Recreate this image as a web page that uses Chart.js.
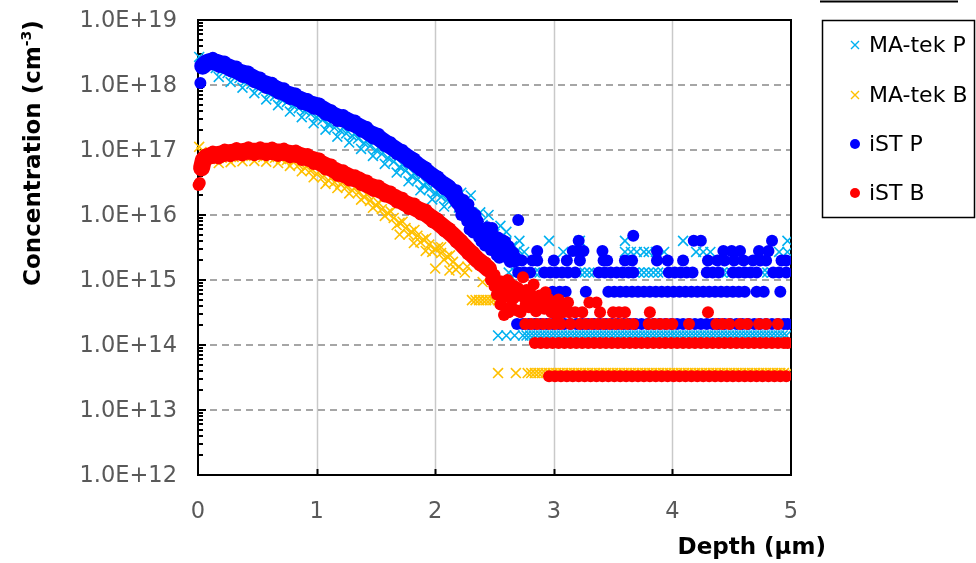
<!DOCTYPE html>
<html>
<head>
<meta charset="utf-8">
<title>SIMS depth profile</title>
<script src="https://cdn.jsdelivr.net/npm/chart.js@4.4.0/dist/chart.umd.min.js"></script>
<style>
  html, body { margin: 0; padding: 0; background: #fff; }
  #wrap { width: 976px; height: 563px; }
</style>
</head>
<body>
<div id="wrap"><canvas id="profile" width="976" height="563"></canvas></div>
<script>
// depth profile: P and B concentration vs depth, two labs

const xTicks = [0, 1, 2, 3, 4, 5];
const yTicks = [1e12, 1e13, 1e14, 1e15, 1e16, 1e17, 1e18, 1e19];
const yTickLabels = ['1.0E+12', '1.0E+13', '1.0E+14', '1.0E+15', '1.0E+16', '1.0E+17', '1.0E+18', '1.0E+19'];
const seriesNames = ['MA-tek P', 'MA-tek B', 'iST P', 'iST B'];

// shared depth grid for the scatter at the edges of each profile band
const edgeDepth = [0.125, 0.175, 0.225, 0.275, 0.325, 0.375, 0.425, 0.475, 0.525, 0.575, 0.625, 0.675, 0.725, 0.775, 0.825, 0.875,
  0.925, 0.975, 1.025, 1.075, 1.125, 1.175, 1.225, 1.275, 1.325, 1.375, 1.425, 1.475, 1.525, 1.575, 1.625, 1.675, 1.725, 1.775,
  1.825, 1.875, 1.925, 1.975, 2.025, 2.075, 2.125, 2.175, 2.225, 2.275, 2.325, 2.375, 2.425, 2.475];

// ---- MA-tek P ----
const maPDepth = [0.01, 0.03, 0.06, 0.10, 0.15, 0.20, 0.25, 0.30, 0.35, 0.40, 0.45, 0.50, 0.55, 0.60, 0.65, 0.70, 0.75, 0.80, 0.85, 0.90, 0.95,
  1.00, 1.05, 1.10, 1.15, 1.20, 1.25, 1.30, 1.35, 1.40, 1.45, 1.50, 1.55, 1.60, 1.65, 1.70, 1.75, 1.80, 1.85, 1.90, 1.95,
  2.00, 2.05, 2.10, 2.15, 2.20, 2.25, 2.30, 2.35, 2.40, 2.45, 2.50, 2.55, 2.60, 2.65, 2.70,
  2.22, 2.30, 2.38, 2.45, 2.55, 2.60];
const maPConc = [2.7e18, 1.95e18, 2.0e18, 1.95e18, 1.82e18, 1.7e18, 1.53e18, 1.42e18, 1.28e18, 1.15e18, 1.04e18, 9.4e17, 8.4e17, 7.5e17, 6.8e17, 6.1e17, 5.5e17, 4.9e17, 4.4e17, 4.0e17, 3.6e17,
  3.2e17, 2.9e17, 2.5e17, 2.2e17, 2.0e17, 1.8e17, 1.65e17, 1.5e17, 1.28e17, 1.15e17, 1.0e17, 8.7e16, 7.6e16, 6.6e16, 5.5e16, 4.8e16, 4.0e16, 3.5e16, 2.9e16, 2.5e16,
  2.2e16, 1.9e16, 1.7e16, 1.5e16, 1.3e16, 1.1e16, 9.3e15, 8.1e15, 7.0e15, 5.9e15, 5.1e15, 4.4e15, 3.8e15, 3.3e15, 2.9e15,
  2.2e16, 2.0e16, 1.1e16, 1.0e16, 6.8e15, 5.5e15];
const maPEdge = [2.2e18, 1.33e18, 1.84e18, 1.11e18, 1.55e18, 9.1e17, 1.25e18, 7.5e17, 1.02e18, 6.0e17, 8.2e17, 4.9e17, 6.7e17, 3.9e17,
  5.3e17, 3.2e17, 4.4e17, 2.57e17, 3.5e17, 2.05e17, 2.7e17, 1.6e17, 2.2e17, 1.3e17, 1.8e17, 1.04e17, 1.4e17, 8.1e16, 1.07e17, 6.1e16,
  8.2e16, 4.5e16, 5.9e16, 3.3e16, 4.3e16, 2.4e16, 3.1e16, 1.74e16, 2.35e16, 1.35e16];
// background levels and the depths sitting on each
const maPBgLevel = [4.0e15, 2.7e15, 1.3e15, 1.4e14];
const maPBgDepth = [
  [2.71, 2.96, 3.22, 3.60, 4.09, 4.97],
  [2.75, 3.08, 3.60, 3.65, 3.70, 3.76, 3.80, 3.86, 3.93, 4.20, 4.26, 4.32, 4.90, 4.97],
  [2.62, 2.68, 2.84, 2.88, 2.93, 3.22, 3.26, 3.30, 3.34, 3.68, 3.72, 3.76, 3.80, 3.84, 3.88, 3.92, 4.42, 4.46, 4.50, 4.59, 4.63, 4.67, 4.76, 4.80, 4.84],
  [2.53, 2.60, 2.67, 2.74, 2.77, 2.80, 2.83, 2.86, 2.89, 2.92, 2.95, 2.98, 3.01, 3.04, 3.07, 3.10, 3.13, 3.16, 3.19, 3.22, 3.25, 3.28, 3.31, 3.34, 3.37,
    3.40, 3.43, 3.46, 3.49, 3.52, 3.55, 3.58, 3.61, 3.64, 3.67, 3.70, 3.73, 3.76, 3.79, 3.82, 3.85, 3.88, 3.91, 3.94, 3.97, 4.00, 4.03, 4.06, 4.09,
    4.12, 4.15, 4.18, 4.21, 4.24, 4.27, 4.30, 4.33, 4.36, 4.39, 4.42, 4.45, 4.48, 4.51, 4.54, 4.57, 4.60, 4.63, 4.66, 4.69, 4.72, 4.75, 4.78, 4.81,
    4.84, 4.87, 4.90, 4.93, 4.96]
];

// ---- MA-tek B ----
const maBDepth = [0.01, 0.03, 0.05, 0.10, 0.15, 0.20, 0.25, 0.30, 0.35, 0.40, 0.45, 0.50, 0.55, 0.60, 0.65, 0.70, 0.75, 0.80, 0.85, 0.90, 0.95,
  1.00, 1.05, 1.10, 1.15, 1.20, 1.25, 1.30, 1.35, 1.40, 1.45, 1.50, 1.55, 1.60, 1.65, 1.70, 1.75, 1.80, 1.85, 1.90, 1.95,
  2.00, 2.05, 2.10, 2.15, 2.20, 2.25,
  1.70, 1.82, 1.92, 2.00, 2.05, 2.12, 2.27, 2.40];
const maBConc = [1.12e17, 9.3e16, 7.6e16, 7.3e16, 7.3e16, 7.6e16, 7.6e16, 7.8e16, 7.8e16, 8.1e16, 8.1e16, 8.1e16, 7.8e16, 7.8e16, 7.6e16, 7.3e16, 7.0e16, 6.6e16, 5.9e16, 5.3e16, 4.8e16,
  4.3e16, 3.8e16, 3.4e16, 3.2e16, 3.0e16, 2.7e16, 2.4e16, 2.2e16, 1.9e16, 1.65e16, 1.42e16, 1.23e16, 1.07e16, 9.0e15, 7.6e15, 6.3e15, 5.5e15, 4.8e15, 4.2e15, 3.5e15,
  3.0e15, 2.6e15, 2.3e15, 1.9e15, 1.6e15, 1.3e15,
  5.0e15, 3.7e15, 2.8e15, 1.5e15, 3.2e15, 1.4e15, 1.6e15, 9.3e14];
const maBEdge = [8.4e16, 6.3e16, 8.7e16, 6.5e16, 9.0e16, 6.7e16, 9.3e16, 6.8e16, 9.1e16, 6.6e16, 8.9e16, 6.3e16, 8.2e16, 5.7e16,
  7.2e16, 4.7e16, 5.8e16, 3.8e16, 4.7e16, 3.0e16, 3.8e16, 2.6e16, 3.3e16, 2.15e16, 2.65e16, 1.72e16, 2.05e16, 1.29e16, 1.52e16, 9.7e15,
  1.13e16, 7.0e15, 7.9e15, 5.0e15, 5.9e15, 3.8e15, 4.4e15, 2.7e15, 3.2e15, 2.05e15, 2.4e15, 1.45e15];
const maBBgLevel = [4.9e14, 3.7e13];
const maBBgDepth = [
  [2.31, 2.34, 2.37, 2.40, 2.43, 2.46, 2.49, 2.53],
  [2.53, 2.68, 2.78, 2.81, 2.84, 2.87, 2.90, 2.93, 2.96, 2.99, 3.02, 3.05, 3.08, 3.11, 3.14, 3.17, 3.20, 3.23, 3.26, 3.29, 3.32, 3.35, 3.38, 3.41,
    3.44, 3.47, 3.50, 3.53, 3.56, 3.59, 3.62, 3.65, 3.68, 3.71, 3.74, 3.77, 3.80, 3.83, 3.86, 3.89, 3.92, 3.95, 3.98, 4.01, 4.04, 4.07, 4.10,
    4.13, 4.16, 4.19, 4.22, 4.25, 4.28, 4.31, 4.34, 4.37, 4.40, 4.43, 4.46, 4.49, 4.52, 4.55, 4.58, 4.61, 4.64, 4.67, 4.70, 4.73, 4.76, 4.79,
    4.82, 4.85, 4.88, 4.91, 4.94, 4.97]
];

// ---- iST P ----
// continuous part of the profile
const istPDepth = [0.04, 0.07, 0.10, 0.15, 0.20, 0.25, 0.30, 0.35, 0.40, 0.45, 0.50, 0.55, 0.60, 0.65, 0.70, 0.75, 0.80, 0.85, 0.90, 0.95,
  1.00, 1.05, 1.10, 1.15, 1.20, 1.25, 1.30, 1.35, 1.40, 1.45, 1.50, 1.55, 1.60, 1.65, 1.70, 1.75, 1.80, 1.85, 1.90, 1.95,
  2.00, 2.05, 2.10, 2.15, 2.20];
const istPConc = [1.95e18, 2.2e18, 2.3e18, 2.25e18, 2.1e18, 1.92e18, 1.76e18, 1.58e18, 1.48e18, 1.33e18, 1.19e18, 1.07e18, 1.0e18, 8.9e17, 8.1e17, 7.3e17, 6.8e17, 6.1e17, 5.6e17, 5.1e17,
  4.8e17, 4.3e17, 3.8e17, 3.4e17, 3.1e17, 2.9e17, 2.6e17, 2.35e17, 2.1e17, 1.8e17, 1.65e17, 1.42e17, 1.23e17, 1.07e17, 9.3e16, 8.1e16, 7.0e16, 5.9e16, 5.1e16, 4.3e16,
  3.7e16, 3.1e16, 2.7e16, 2.2e16, 1.58e16];
const istPEdge = [2.62e18, 1.9e18, 2.3e18, 1.62e18, 1.92e18, 1.33e18, 1.61e18, 1.1e18, 1.3e18, 9.0e17, 1.08e18, 7.4e17, 8.9e17, 6.1e17,
  7.4e17, 5.1e17, 6.1e17, 4.3e17, 5.2e17, 3.5e17, 4.1e17, 2.8e17, 3.45e17, 2.4e17, 2.85e17, 1.93e17, 2.25e17, 1.5e17, 1.76e17, 1.15e17,
  1.32e17, 8.7e16, 1.0e17, 6.5e16, 7.4e16, 4.8e16, 5.4e16, 3.5e16, 3.9e16, 2.5e16, 2.8e16, 1.65e16];
// loose points: surface point and the noisy tail
const istPLooseDepth = [0.02, 2.25, 2.30, 2.35, 2.40, 2.45, 2.50, 2.55, 2.60,
  2.18, 2.22, 2.28, 2.32, 2.42, 2.48, 2.52, 2.57, 2.63, 2.66, 2.70,
  2.24, 2.27, 2.34, 2.37, 2.44, 2.47, 2.53, 2.58, 2.62, 2.67,
  2.21, 2.26, 2.29, 2.31, 2.36, 2.39, 2.43, 2.46, 2.49, 2.51, 2.54, 2.56, 2.59, 2.61, 2.64, 2.68];
const istPLooseConc = [1.07e18, 1.2e16, 8.4e15, 6.6e15, 5.3e15, 4.4e15, 3.6e15, 3.1e15, 2.7e15,
  2.4e16, 1.0e16, 1.46e16, 5.4e15, 3.4e15, 6.3e15, 2.4e15, 4.1e15, 1.9e15, 2.6e15, 8.4e15,
  1.7e16, 8.0e15, 1.0e16, 4.5e15, 6.5e15, 2.9e15, 4.5e15, 2.3e15, 3.3e15, 1.9e15,
  1.25e16, 1.05e16, 6.0e15, 1.1e16, 8.0e15, 3.9e15, 5.5e15, 3.8e15, 5.0e15, 3.0e15, 2.2e15, 3.6e15, 3.9e15, 2.2e15, 2.8e15, 2.2e15];
const istPBgLevel = [4.8e15, 4.0e15, 2.8e15, 2.0e15, 1.3e15, 6.6e14, 2.1e14];
const istPBgDepth = [
  [3.67],
  [3.21, 4.18, 4.24, 4.84],
  [2.86, 3.16, 3.20, 3.25, 3.41, 3.87, 4.43, 4.50, 4.57, 4.73, 4.81],
  [2.73, 2.82, 2.86, 3.00, 3.11, 3.22, 3.42, 3.45, 3.60, 3.66, 3.87, 3.96, 4.09, 4.30, 4.38, 4.44, 4.52, 4.60, 4.68, 4.74, 4.79, 4.92, 4.96],
  [2.70, 2.75, 2.80, 2.92, 2.97, 3.02, 3.07, 3.12, 3.18, 3.38, 3.43, 3.48, 3.53, 3.58, 3.63, 3.67, 3.97, 4.02, 4.07, 4.12, 4.17, 4.29, 4.34, 4.39,
    4.51, 4.56, 4.61, 4.66, 4.71, 4.85, 4.90, 4.96],
  [2.99, 3.05, 3.10, 3.27, 3.46, 3.51, 3.56, 3.61, 3.66, 3.71, 3.76, 3.81, 3.86, 3.91, 3.96, 4.01, 4.06, 4.11, 4.16, 4.21, 4.26, 4.31, 4.36, 4.41,
    4.46, 4.51, 4.56, 4.61, 4.71, 4.77, 4.91],
  [2.69, 2.74, 2.79, 2.84, 2.89, 2.94, 2.99, 3.04, 3.09, 3.14, 3.19, 3.24, 3.29, 3.34, 3.39, 3.44, 3.49, 3.54, 3.59, 3.64, 3.69, 3.74, 3.79, 3.84,
    3.89, 3.94, 3.99, 4.04, 4.09, 4.14, 4.19, 4.24, 4.29, 4.34, 4.39, 4.44, 4.49, 4.54, 4.59, 4.64, 4.69, 4.74, 4.79, 4.84, 4.89, 4.94, 4.97]
];

// ---- iST B ----
const istBDepth = [0.03, 0.045, 0.07, 0.10, 0.15, 0.20, 0.25, 0.30, 0.35, 0.40, 0.45, 0.50, 0.55, 0.60, 0.65, 0.70, 0.75, 0.80, 0.85, 0.90, 0.95,
  1.00, 1.05, 1.10, 1.15, 1.20, 1.25, 1.30, 1.35, 1.40, 1.45, 1.50, 1.55, 1.60, 1.65, 1.70, 1.75, 1.80, 1.85, 1.90, 1.95,
  2.00, 2.05, 2.10, 2.15, 2.20, 2.25, 2.30, 2.35, 2.40, 2.45];
const istBConc = [5.3e16, 7.0e16, 7.8e16, 8.1e16, 8.4e16, 8.7e16, 9.0e16, 9.3e16, 9.3e16, 9.6e16, 9.6e16, 9.6e16, 9.6e16, 9.6e16, 9.3e16, 9.3e16, 9.0e16, 8.7e16, 8.4e16, 7.8e16, 7.3e16,
  6.8e16, 6.1e16, 5.5e16, 4.9e16, 4.4e16, 4.1e16, 3.7e16, 3.5e16, 3.1e16, 2.8e16, 2.6e16, 2.35e16, 2.1e16, 1.9e16, 1.7e16, 1.5e16, 1.37e16, 1.23e16, 1.12e16, 9.6e15,
  8.3e15, 7.0e15, 5.9e15, 4.9e15, 4.0e15, 3.2e15, 2.6e15, 2.1e15, 1.77e15, 1.48e15];
const istBEdge = [9.5e16, 7.4e16, 1.02e17, 8.0e16, 1.07e17, 8.2e16, 1.1e17, 8.3e16, 1.1e17, 8.3e16, 1.09e17, 8.1e16, 1.05e17, 7.7e16,
  9.8e16, 7.0e16, 8.7e16, 6.1e16, 7.4e16, 5.0e16, 6.0e16, 4.0e16, 4.9e16, 3.4e16, 4.1e16, 2.9e16, 3.4e16, 2.35e16, 2.85e16, 1.93e16,
  2.3e16, 1.56e16, 1.84e16, 1.24e16, 1.5e16, 1.02e16, 1.2e16, 7.7e15, 8.7e15, 5.6e15, 6.2e15, 3.8e15, 4.1e15, 2.5e15, 2.7e15, 1.68e15,
  1.86e15, 1.16e15];
const istBLooseDepth = [0.005, 0.015, 2.50, 2.55, 2.60, 2.65, 2.70, 2.75, 2.80,
  2.52, 2.55, 2.58, 2.62, 2.63, 2.66, 2.70, 2.74, 2.76, 2.80, 2.83, 2.86, 2.88, 2.92, 2.95, 2.98, 3.00, 3.03,
  2.47, 2.50, 2.56, 2.59, 2.61, 2.64, 2.67, 2.69, 2.72, 2.77, 2.79, 2.82, 2.85, 2.90, 2.93, 2.96, 3.01, 3.04];
const istBLooseConc = [2.9e16, 3.1e16, 1.2e15, 9.6e14, 7.8e14, 6.7e14, 5.8e14, 5.3e14, 4.8e14,
  6.0e14, 4.2e14, 2.9e14, 3.2e14, 9.0e14, 5.2e14, 7.5e14, 1.1e15, 4.0e14, 6.5e14, 8.5e14, 4.5e14, 5.8e14, 3.6e14, 5.2e14, 3.2e14, 4.6e14, 2.8e14,
  1.0e15, 8.0e14, 7.0e14, 5.5e14, 1.0e15, 4.0e14, 8.0e14, 3.4e14, 6.2e14, 7.0e14, 3.8e14, 5.5e14, 3.3e14, 4.5e14, 6.5e14, 4.0e14, 3.6e14, 5.0e14];
const istBBgLevel = [4.5e14, 3.2e14, 2.1e14, 1.07e14, 3.3e13];
const istBBgDepth = [
  [3.06, 3.12, 3.30, 3.36],
  [2.61, 2.72, 3.08, 3.13, 3.18, 3.24, 3.39, 3.50, 3.55, 3.60, 3.81, 4.30],
  [2.76, 2.81, 2.86, 2.91, 2.96, 3.01, 3.06, 3.14, 3.22, 3.27, 3.32, 3.37, 3.42, 3.47, 3.52, 3.57, 3.62, 3.67, 3.80, 3.85, 3.90, 3.95, 4.00,
    4.14, 4.37, 4.42, 4.48, 4.57, 4.63, 4.73, 4.79, 4.89],
  [2.84, 2.89, 2.94, 2.99, 3.04, 3.09, 3.14, 3.19, 3.24, 3.29, 3.34, 3.39, 3.44, 3.49, 3.54, 3.59, 3.64, 3.69, 3.74, 3.79, 3.84, 3.89, 3.94,
    3.99, 4.04, 4.09, 4.14, 4.19, 4.24, 4.29, 4.34, 4.39, 4.44, 4.49, 4.54, 4.59, 4.64, 4.69, 4.74, 4.79, 4.84, 4.89, 4.94, 4.97],
  [2.96, 3.01, 3.06, 3.11, 3.16, 3.21, 3.26, 3.31, 3.36, 3.41, 3.46, 3.51, 3.56, 3.61, 3.66, 3.71, 3.76, 3.81, 3.86, 3.91, 3.96, 4.01, 4.06,
    4.11, 4.16, 4.21, 4.26, 4.31, 4.36, 4.41, 4.46, 4.51, 4.56, 4.61, 4.66, 4.71, 4.76, 4.81, 4.86, 4.91, 4.96]
];

const colors = ['#00B0F0', '#FFC000', '#0000FF', '#FF0000'];

const toPoints = (depth, conc) => depth.map((d, i) => ({ x: d, y: conc[i] }));

// band-edge scatter plus background rows
function extraPoints(edge, bgLevel, bgDepth) {
  const pts = edge.map((v, i) => ({ x: edgeDepth[i], y: v }));
  bgLevel.forEach((lv, k) => {
    bgDepth[k].forEach(d => pts.push({ x: d, y: lv }));
  });
  return pts;
}

const TICK_FONT = '22.5px "DejaVu Sans"';
const TITLE_FONT = 'bold 23px "DejaVu Sans"';
const SUP_FONT = 'bold 14px "DejaVu Sans"';

// grid, frame, tick marks, labels and legend drawn by hand
const framePlugin = {
  id: 'frame',
  beforeDatasetsDraw(chart) {
    const { ctx, chartArea: a, scales: { x, y } } = chart;
    ctx.save();
    // vertical grid
    ctx.strokeStyle = '#c9c9c9';
    ctx.lineWidth = 1.5;
    xTicks.slice(1, -1).forEach(v => {
      const px = Math.round(x.getPixelForValue(v)) + 0.5;
      ctx.beginPath(); ctx.moveTo(px, a.top); ctx.lineTo(px, a.bottom); ctx.stroke();
    });
    // dashed decade lines
    ctx.strokeStyle = '#a6a6a6';
    ctx.lineWidth = 2;
    ctx.setLineDash([7, 5]);
    yTicks.slice(1, -1).forEach(v => {
      const py = Math.round(y.getPixelForValue(v));
      ctx.beginPath(); ctx.moveTo(a.left, py); ctx.lineTo(a.right, py); ctx.stroke();
    });
    ctx.setLineDash([]);
    // frame
    ctx.strokeStyle = '#000';
    ctx.lineWidth = 2;
    ctx.strokeRect(a.left, a.top, a.right - a.left, a.bottom - a.top);
    // log minor + major ticks on the left axis, pointing inward
    for (let e = 12; e < 19; e++) {
      for (let m = 1; m < 10; m++) {
        const py = Math.round(y.getPixelForValue(m * Math.pow(10, e)));
        const len = m === 1 ? 8 : 5;
        ctx.beginPath(); ctx.moveTo(a.left, py); ctx.lineTo(a.left + len, py); ctx.stroke();
      }
    }
    // x ticks pointing up
    xTicks.slice(1, -1).forEach(v => {
      const px = Math.round(x.getPixelForValue(v)) + 0.5;
      ctx.beginPath(); ctx.moveTo(px, a.bottom); ctx.lineTo(px, a.bottom - 6); ctx.stroke();
    });
    ctx.restore();
  },
  afterDraw(chart) {
    const { ctx, scales: { x, y } } = chart;
    ctx.save();
    ctx.fillStyle = '#595959';
    ctx.font = TICK_FONT;
    ctx.textBaseline = 'middle';
    ctx.textAlign = 'right';
    yTicks.forEach((v, i) => ctx.fillText(yTickLabels[i], 177, y.getPixelForValue(v) + 1));
    ctx.textAlign = 'center';
    xTicks.forEach(v => ctx.fillText(String(v), x.getPixelForValue(v), 512));

    // axis titles
    ctx.fillStyle = '#000';
    ctx.font = TITLE_FONT;
    ctx.textAlign = 'right';
    ctx.fillText('Depth (\u03bcm)', 826, 548);

    ctx.save();
    ctx.translate(34, 153);
    ctx.rotate(-Math.PI / 2);
    ctx.textAlign = 'left';
    const main = 'Concentration (cm';
    const sup = '-3';
    const wMain = ctx.measureText(main).width;
    const wClose = ctx.measureText(')').width;
    ctx.font = SUP_FONT;
    const wSup = ctx.measureText(sup).width;
    let cx = -(wMain + wSup + wClose) / 2;
    ctx.font = TITLE_FONT;
    ctx.fillText(main, cx, 0);
    cx += wMain;
    ctx.font = SUP_FONT;
    ctx.fillText(sup, cx, -7);
    cx += wSup;
    ctx.font = TITLE_FONT;
    ctx.fillText(')', cx, 0);
    ctx.restore();

    // legend box
    ctx.strokeStyle = '#000';
    ctx.lineWidth = 1.5;
    ctx.strokeRect(822.5, 20.5, 152, 197);
    ctx.lineWidth = 2;
    ctx.beginPath(); ctx.moveTo(820, 1.5); ctx.lineTo(958, 1.5); ctx.stroke();
    const rowsY = [45, 95, 144, 193];
    seriesNames.forEach((name, i) => {
      const my = rowsY[i];
      if (i < 2) {
        ctx.strokeStyle = colors[i];
        ctx.lineWidth = 1.4;
        ctx.beginPath();
        ctx.moveTo(851, my - 4); ctx.lineTo(859, my + 4);
        ctx.moveTo(859, my - 4); ctx.lineTo(851, my + 4);
        ctx.stroke();
      } else {
        ctx.fillStyle = colors[i];
        ctx.beginPath(); ctx.arc(855, my, 5, 0, Math.PI * 2); ctx.fill();
      }
      ctx.fillStyle = '#000';
      ctx.font = '22px "DejaVu Sans"';
      ctx.textAlign = 'left';
      ctx.textBaseline = 'middle';
      ctx.fillText(name, 869, my + 1);
    });
    ctx.restore();
  }
};

const crossStyle = (i, order) => ({
  label: seriesNames[i],
  pointStyle: 'crossRot',
  pointRadius: 7,
  pointBorderWidth: 1.6,
  borderColor: colors[i],
  backgroundColor: colors[i],
  order
});
const dotStyle = (i, order) => ({
  label: seriesNames[i],
  pointStyle: 'circle',
  pointRadius: 6,
  pointBorderWidth: 0,
  borderColor: colors[i],
  backgroundColor: colors[i],
  order
});
// the dense measured stretch: points joined so the closely packed dots read as one band
const bandStyle = (i, order) => ({
  ...dotStyle(i, order),
  showLine: true,
  borderWidth: 17,
  borderCapStyle: 'round',
  borderJoinStyle: 'round'
});

new Chart(document.getElementById('profile'), {
  type: 'scatter',
  data: {
    datasets: [
      { ...crossStyle(0, 4), data: toPoints(maPDepth, maPConc).concat(extraPoints(maPEdge, maPBgLevel, maPBgDepth)) },
      { ...crossStyle(1, 3), data: toPoints(maBDepth, maBConc).concat(extraPoints(maBEdge, maBBgLevel, maBBgDepth)) },
      { ...bandStyle(2, 2), data: toPoints(istPDepth, istPConc) },
      { ...dotStyle(2, 2), data: toPoints(istPLooseDepth, istPLooseConc).concat(extraPoints(istPEdge, istPBgLevel, istPBgDepth)) },
      { ...bandStyle(3, 1), data: toPoints(istBDepth, istBConc) },
      { ...dotStyle(3, 1), data: toPoints(istBLooseDepth, istBLooseConc).concat(extraPoints(istBEdge, istBBgLevel, istBBgDepth)) }
    ]
  },
  options: {
    responsive: false,
    devicePixelRatio: 1,
    animation: false,
    layout: { padding: { left: 198, right: 185, top: 20, bottom: 88 } },
    datasets: { scatter: { clip: { left: 10, right: 0, top: 0, bottom: 0 } } },
    scales: {
      x: { type: 'linear', min: 0, max: 5, display: false },
      y: { type: 'logarithmic', min: 1e12, max: 1e19, display: false }
    },
    plugins: { legend: { display: false }, tooltip: { enabled: false } }
  },
  plugins: [framePlugin]
});
</script>
</body>
</html>
